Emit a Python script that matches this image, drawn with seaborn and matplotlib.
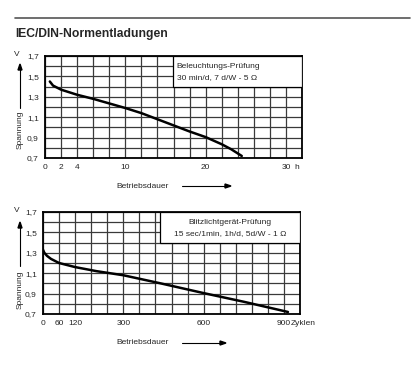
import numpy as np
import matplotlib
matplotlib.use("Agg")
import matplotlib.pyplot as plt
import seaborn as sns

sns.set_style("white")
plt.rcParams['font.family'] = ['Liberation Sans', 'DejaVu Sans']

# data
top_hours = [0.6, 1, 2, 4, 6, 8, 10, 12, 14, 16, 18, 20, 22, 23.2, 24.5]
top_volts = [1.45, 1.41, 1.37, 1.32, 1.28, 1.235, 1.19, 1.14, 1.08, 1.02, 0.96, 0.905, 0.835, 0.785, 0.72]
bot_cycles = [0, 5, 15, 30, 60, 90, 120, 200, 300, 440, 600, 750, 915]
bot_volts = [1.33, 1.30, 1.27, 1.24, 1.20, 1.18, 1.16, 1.12, 1.08, 1.00, 0.905, 0.82, 0.72]

top_xlabels = {0: "0", 2: "2", 4: "4", 10: "10", 20: "20", 30: "30"}
bot_xlabels = {0: "0", 60: "60", 120: "120", 300: "300", 600: "600", 900: "900"}
ylabels = {0.7: "0,7", 0.9: "0,9", 1.1: "1,1", 1.3: "1,3", 1.5: "1,5", 1.7: "1,7"}

W, H = 417, 375
fig = plt.figure(figsize=(W / 100, H / 100), dpi=100)


def fx(x):
    return x / W


def fy(y):
    return 1 - y / H


def setup(ax, xmax, step, xlabels, box_x, lines, center):
    ax.set_xlim(0, xmax)
    ax.set_ylim(0.7, 1.7)
    xt = np.arange(0, xmax + 0.01, step)
    ax.set_xticks(xt)
    ax.set_xticklabels([xlabels.get(int(round(v)), "") for v in xt])
    yt = np.round(np.arange(0.7, 1.71, 0.1), 1)
    ax.set_yticks(yt)
    ax.set_yticklabels([ylabels.get(v, "") for v in yt])
    ax.grid(True, color="#3a3a3a", lw=0.9)
    ax.tick_params(length=2, width=0.8, pad=2.5, labelsize=6, color="black")
    for s in ax.spines.values():
        s.set_color("black")
        s.set_linewidth(1.3)
    box = plt.Rectangle((box_x, 0.696), 1 - box_x, 0.304, transform=ax.transAxes,
                        facecolor="white", edgecolor="black", lw=0.9, zorder=3)
    ax.add_patch(box)
    if center:
        tx, ha = box_x + (1 - box_x) / 2, "center"
    else:
        tx, ha = box_x + 0.015, "left"
    ax.text(tx, 0.895, lines[0], transform=ax.transAxes, fontsize=6, ha=ha, va="center", zorder=4)
    ax.text(tx, 0.79, lines[1], transform=ax.transAxes, fontsize=6, ha=ha, va="center", zorder=4)


ax1 = fig.add_axes([fx(45), fy(158), fx(302) - fx(45), fy(56) - fy(158)])
sns.lineplot(x=top_hours, y=top_volts, ax=ax1, color="black", lw=1.8, zorder=2)
setup(ax1, 32, 2, top_xlabels, 0.498,
      ["Beleuchtungs-Prüfung", "30 min/d, 7 d/W - 5 Ω"], False)
ax1.annotate("h", xy=(31.1, 0), xycoords=("data", "axes fraction"), xytext=(0, -4.5),
             textcoords="offset points", fontsize=6, ha="left", va="top")

ax2 = fig.add_axes([fx(43), fy(314), fx(300) - fx(43), fy(212) - fy(314)])
sns.lineplot(x=bot_cycles, y=bot_volts, ax=ax2, color="black", lw=1.8, zorder=2)
setup(ax2, 960, 60, bot_xlabels, 0.455,
      ["Blitzlichtgerät-Prüfung", "15 sec/1min, 1h/d, 5d/W - 1 Ω"], True)
ax2.annotate("Zyklen", xy=(925, 0), xycoords=("data", "axes fraction"), xytext=(0, -4.5),
             textcoords="offset points", fontsize=6, ha="left", va="top")

# header rule and title
fig.add_artist(plt.Line2D([fx(15), fx(410)], [fy(18), fy(18)], color="#555555", lw=1.2))
fig.text(fx(15), fy(34), "IEC/DIN-Normentladungen", fontsize=8.7, fontweight="bold",
         ha="left", va="center")

# axis labels with arrows
for bottom_txt, vy, xl_y, arrow_top, arrow_bot, tx0, tx1 in [
        (130, 55, 186, 64, 108, 182, 231),
        (290, 211, 343, 222, 266, 182, 226)]:
    fig.text(fx(17), fy(vy), "V", fontsize=6, ha="center", va="center")
    fig.text(fx(20), fy(bottom_txt), "Spannung", fontsize=6, rotation=90,
             ha="center", va="center")
    fig.add_artist(plt.Line2D([fx(20), fx(20)], [fy(arrow_bot), fy(arrow_top + 4)],
                              color="black", lw=0.8))
    fig.add_artist(plt.Polygon([[fx(18), fy(arrow_top + 6)], [fx(22), fy(arrow_top + 6)],
                                [fx(20), fy(arrow_top)]], closed=True, color="black"))
    fig.text(fx(143), fy(xl_y), "Betriebsdauer", fontsize=6, ha="center", va="center")
    fig.add_artist(plt.Line2D([fx(tx0), fx(tx1 - 4)], [fy(xl_y), fy(xl_y)],
                              color="black", lw=0.8))
    fig.add_artist(plt.Polygon([[fx(tx1 - 6), fy(xl_y - 2)], [fx(tx1 - 6), fy(xl_y + 2)],
                                [fx(tx1), fy(xl_y)]], closed=True, color="black"))

fig.savefig("out.png", dpi=100, facecolor="white")
